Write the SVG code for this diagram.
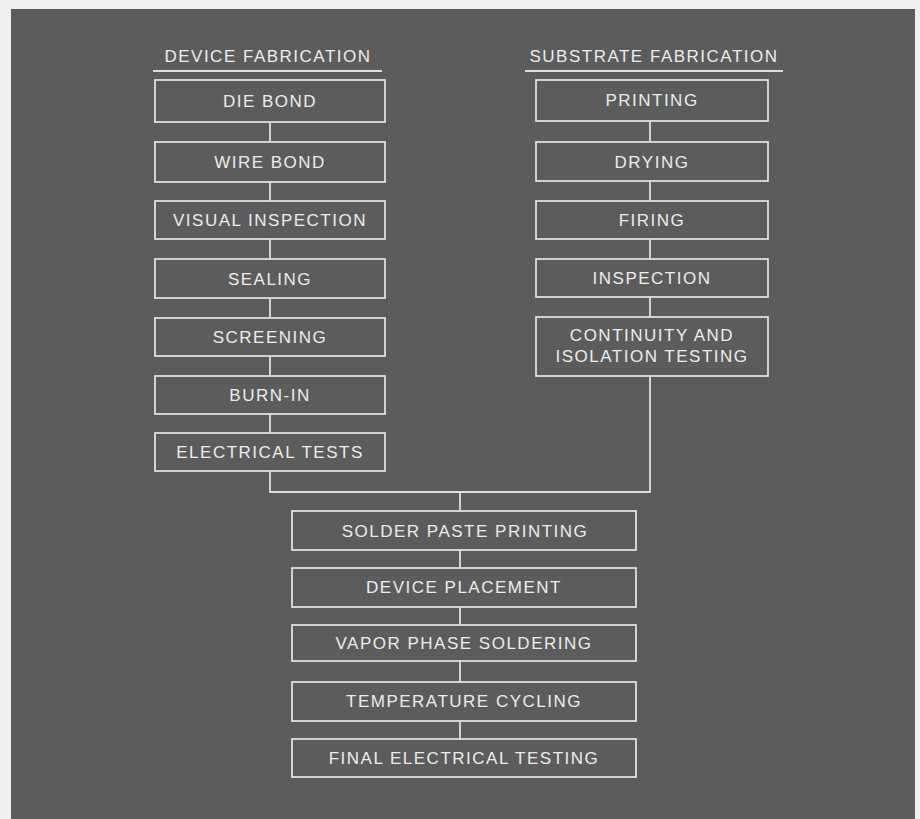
<svg xmlns="http://www.w3.org/2000/svg" width="920" height="819" viewBox="0 0 920 819">
<style>
.box{fill:none;stroke:#dedede;stroke-width:1.8}
.t{font-family:"Liberation Sans",Arial,sans-serif;font-size:17px;letter-spacing:1.5px;fill:#ececec;text-anchor:middle}
.c{fill:none;stroke:#dedede;stroke-width:1.8}
</style>
<rect x="0" y="0" width="920" height="819" fill="#efefef"/>
<rect x="11" y="9" width="904" height="810" fill="#5c5c5c"/>
<g id="header-device"><text class="t" x="268" y="62">DEVICE FABRICATION</text><line class="c" x1="153" y1="71" x2="382" y2="71"/></g>
<g id="header-substrate"><text class="t" x="654" y="62">SUBSTRATE FABRICATION</text><line class="c" x1="525" y1="71" x2="783" y2="71"/></g>
<g id="connectors">
<path class="c" d="M270,122V142M270,182V201M270,239V259M270,298V318M270,356V376M270,414V433"/>
<path class="c" d="M650,121V142M650,181V201M650,239V259M650,297V317"/>
<path class="c" d="M270,471V492H650V376M460,492V511"/>
<path class="c" d="M460,550V568M460,607V625M460,661V682M460,721V739"/>
</g>
<g id="die-bond"><rect class="box" x="155" y="80" width="230" height="42"/><text class="t" x="270" y="107">DIE BOND</text></g>
<g id="wire-bond"><rect class="box" x="155" y="142" width="230" height="40"/><text class="t" x="270" y="168">WIRE BOND</text></g>
<g id="visual-inspection"><rect class="box" x="155" y="201" width="230" height="38"/><text class="t" x="270" y="226">VISUAL INSPECTION</text></g>
<g id="sealing"><rect class="box" x="155" y="259" width="230" height="39"/><text class="t" x="270" y="285">SEALING</text></g>
<g id="screening"><rect class="box" x="155" y="318" width="230" height="38"/><text class="t" x="270" y="343">SCREENING</text></g>
<g id="burn-in"><rect class="box" x="155" y="376" width="230" height="38"/><text class="t" x="270" y="401">BURN-IN</text></g>
<g id="electrical-tests"><rect class="box" x="155" y="433" width="230" height="38"/><text class="t" x="270" y="458">ELECTRICAL TESTS</text></g>
<g id="printing"><rect class="box" x="536" y="80" width="232" height="41"/><text class="t" x="652" y="106">PRINTING</text></g>
<g id="drying"><rect class="box" x="536" y="142" width="232" height="39"/><text class="t" x="652" y="168">DRYING</text></g>
<g id="firing"><rect class="box" x="536" y="201" width="232" height="38"/><text class="t" x="652" y="226">FIRING</text></g>
<g id="inspection"><rect class="box" x="536" y="259" width="232" height="38"/><text class="t" x="652" y="284">INSPECTION</text></g>
<g id="continuity"><rect class="box" x="536" y="317" width="232" height="59"/><text class="t" x="652" y="341">CONTINUITY AND</text><text class="t" x="652" y="362">ISOLATION TESTING</text></g>
<g id="solder-paste"><rect class="box" x="292" y="511" width="344" height="39"/><text class="t" x="465" y="537">SOLDER PASTE PRINTING</text></g>
<g id="device-placement"><rect class="box" x="292" y="568" width="344" height="39"/><text class="t" x="464" y="593">DEVICE PLACEMENT</text></g>
<g id="vapor-phase"><rect class="box" x="292" y="625" width="344" height="36"/><text class="t" x="464" y="649">VAPOR PHASE SOLDERING</text></g>
<g id="temperature-cycling"><rect class="box" x="292" y="682" width="344" height="39"/><text class="t" x="464" y="707">TEMPERATURE CYCLING</text></g>
<g id="final-testing"><rect class="box" x="292" y="739" width="344" height="38"/><text class="t" x="464" y="764">FINAL ELECTRICAL TESTING</text></g>
</svg>
